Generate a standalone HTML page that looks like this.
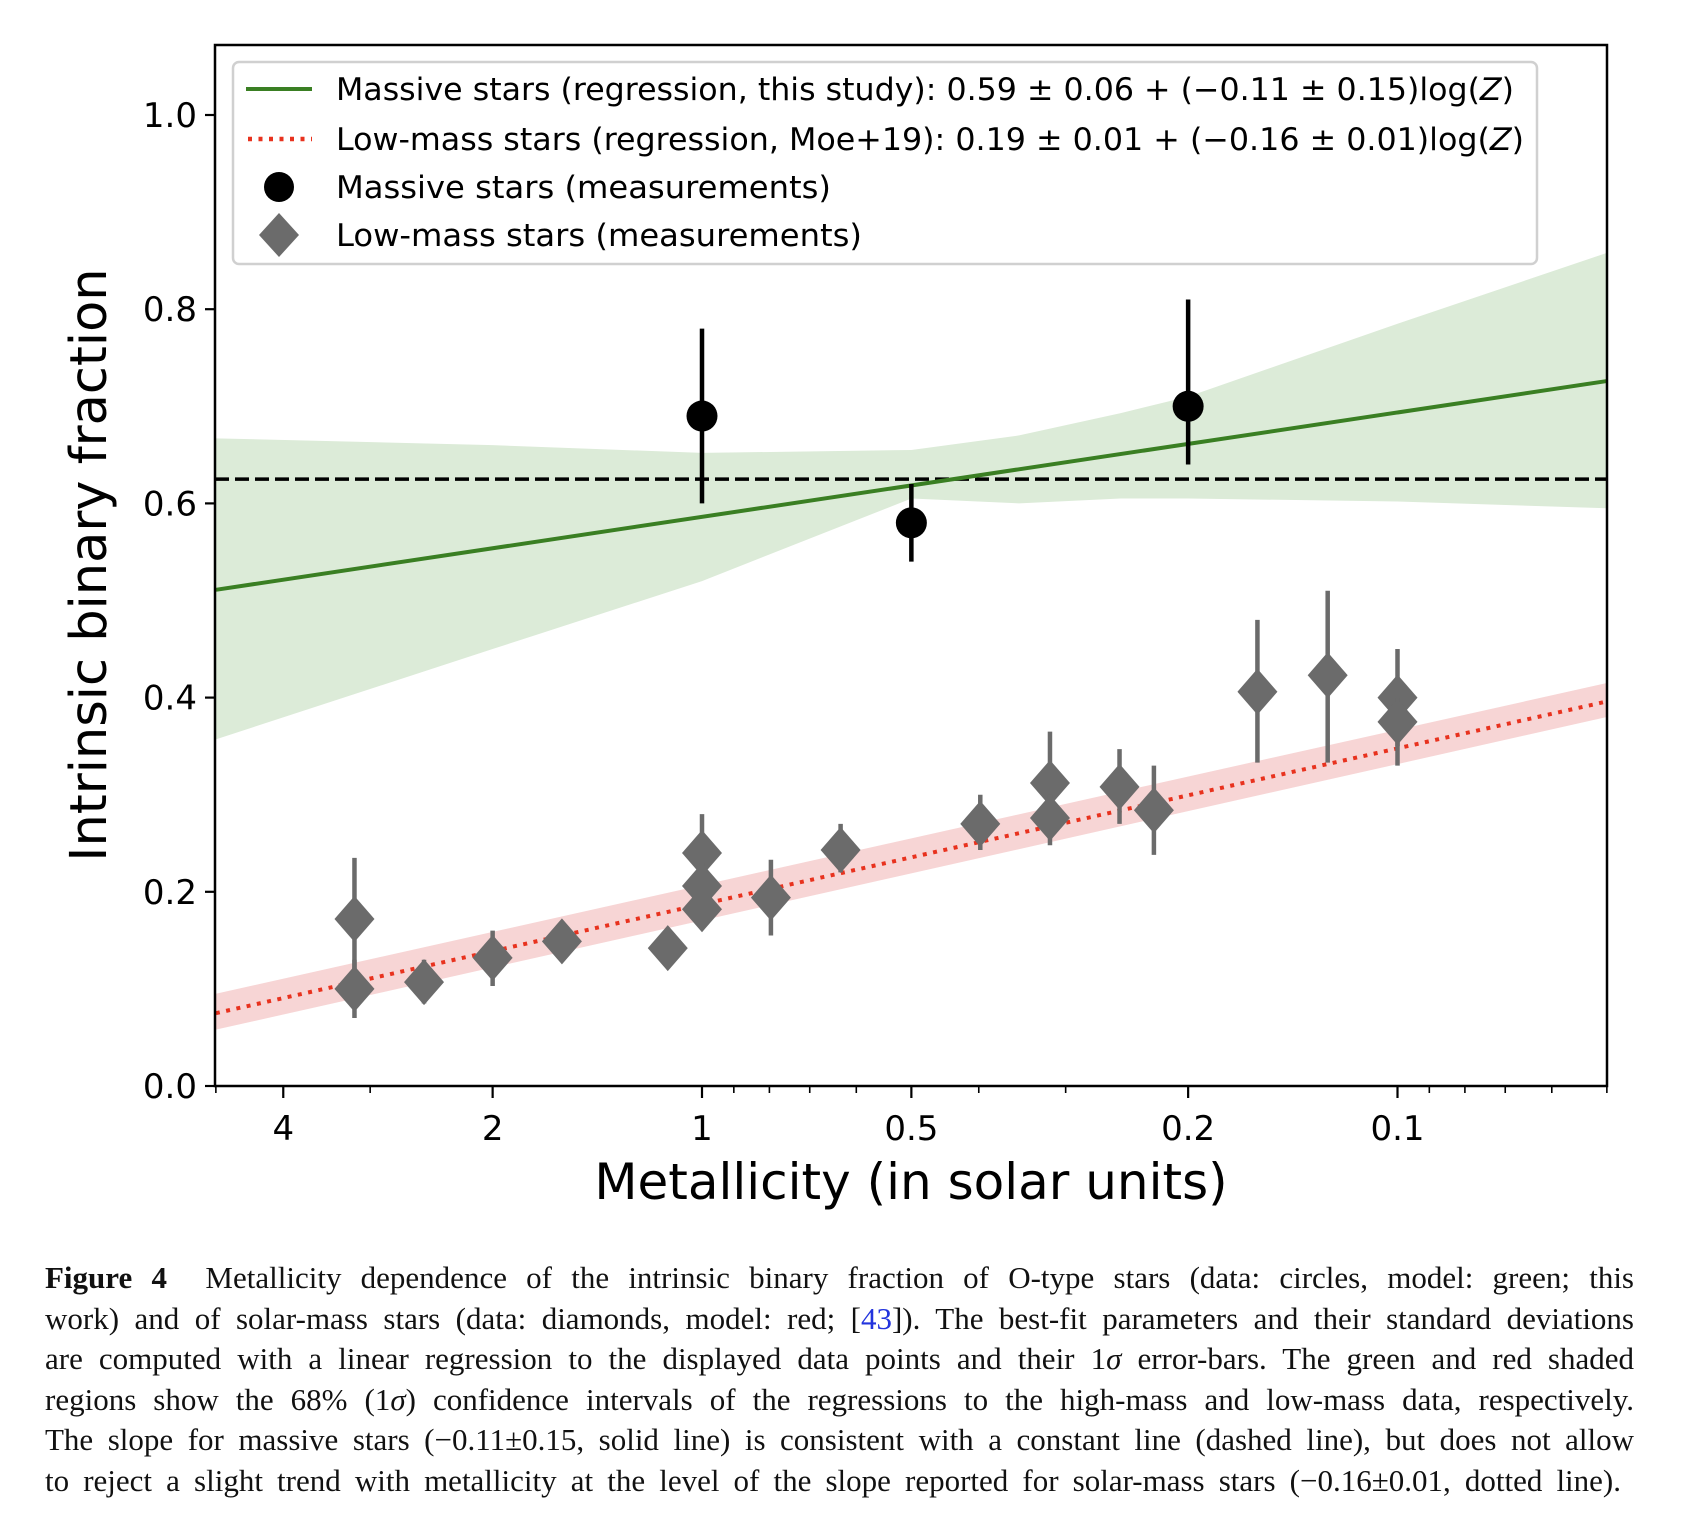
<!DOCTYPE html>
<html><head><meta charset="utf-8"><style>
body{margin:0;background:#fff;width:1688px;height:1536px;overflow:hidden;font-family:"DejaVu Sans","Liberation Sans",sans-serif}
#cap{position:absolute;left:45px;top:1258px;font-family:"Liberation Serif",serif;font-size:31px;line-height:40.6px;color:#111}
#cap div{text-align:justify;text-align-last:justify;white-space:nowrap;width:1589px}
</style></head><body>
<svg id="chart" width="1688" height="1250" style="position:absolute;left:0;top:0" xmlns="http://www.w3.org/2000/svg"></svg>
<div id="cap">
<div><b>Figure 4</b>&nbsp; Metallicity dependence of the intrinsic binary fraction of O-type stars (data: circles, model: green; this</div>
<div>work) and of solar-mass stars (data: diamonds, model: red; [<span style="color:#2233dd">43</span>]). The best-fit parameters and their standard deviations</div>
<div>are computed with a linear regression to the displayed data points and their 1<i>σ</i> error-bars. The green and red shaded</div>
<div>regions show the 68% (1<i>σ</i>) confidence intervals of the regressions to the high-mass and low-mass data, respectively.</div>
<div>The slope for massive stars (−0.11±0.15, solid line) is consistent with a constant line (dashed line), but does not allow</div>
<div style="width:1576px">to reject a slight trend with metallicity at the level of the slope reported for solar-mass stars (−0.16±0.01, dotted line).</div>
</div>
<script>
const massZ=[1,0.5,0.2];
const massY=[0.69,0.58,0.70];
const massLo=[0.60,0.54,0.64];
const massHi=[0.78,0.62,0.81];
const lowZ=[3.16,3.16,2.51,2.0,1.59,1.12,1,1,1,0.796,0.632,0.398,0.316,0.316,0.251,0.224,0.159,0.126,0.1,0.1];
const lowY=[0.172,0.100,0.107,0.132,0.149,0.142,0.240,0.206,0.182,0.194,0.243,0.270,0.312,0.276,0.308,0.284,0.406,0.423,0.400,0.375];
const lowLo=[0.100,0.070,0.085,0.103,0.149,0.142,0.200,0.185,0.163,0.155,0.220,0.243,0.270,0.248,0.270,0.238,0.333,0.333,0.350,0.330];
const lowHi=[0.235,0.130,0.130,0.160,0.149,0.142,0.280,0.230,0.200,0.233,0.270,0.300,0.365,0.300,0.347,0.330,0.480,0.510,0.450,0.400];
const bandZ=[5,2,1,0.5,0.35,0.25,0.2,0.1,0.05];
const greenUp=[0.667,0.660,0.652,0.655,0.670,0.693,0.710,0.785,0.858];
const greenDn=[0.357,0.450,0.520,0.605,0.600,0.605,0.605,0.602,0.595];
const greenLineY=[0.511,0.726];
const redLineY=[0.075,0.396];
const redUp=[0.095,0.415];
const redDn=[0.058,0.380];
const lineZ=[5,0.05];
const constY=0.625;
const yTicks=[0,0.2,0.4,0.6,0.8,1.0];
const yTickLabels=["0.0","0.2","0.4","0.6","0.8","1.0"];
const xTicks=[4,2,1,0.5,0.2,0.1];
const xTickLabels=["4","2","1","0.5","0.2","0.1"];
const xMinor=[5,3,0.9,0.8,0.7,0.6,0.4,0.3,0.09,0.08,0.07,0.06,0.05];

const L=215,R=1607,T=45,B=1086;
const X=z=>702-695.5*Math.log10(z);
const Y=v=>B-971*v;
const svg=document.getElementById('chart');
const NS='http://www.w3.org/2000/svg';
function mk(tag,attrs,parent){const e=document.createElementNS(NS,tag);for(const k in attrs)e.setAttribute(k,attrs[k]);(parent||svg).appendChild(e);return e;}
const clip=mk('clipPath',{id:'pc'});mk('rect',{x:L,y:T,width:R-L,height:B-T},clip);
const g=mk('g',{'clip-path':'url(#pc)'});
let e;
let pts=bandZ.map((z,i)=>X(z)+','+Y(greenUp[i])).concat(bandZ.slice().reverse().map((z,i)=>X(z)+','+Y(greenDn[bandZ.length-1-i])));
e=mk('polygon',{points:pts.join(' '),fill:'#dcebd8'},g);

pts=[X(lineZ[0])+','+Y(redUp[0]),X(lineZ[1])+','+Y(redUp[1]),X(lineZ[1])+','+Y(redDn[1]),X(lineZ[0])+','+Y(redDn[0])];
e=mk('polygon',{points:pts.join(' '),fill:'#f7d5d5'},g);

e=mk('line',{x1:L,x2:R,y1:Y(constY),y2:Y(constY),stroke:'#000','stroke-width':3.5,'stroke-dasharray':'14 6'},g);

e=mk('line',{x1:X(lineZ[0]),x2:X(lineZ[1]),y1:Y(greenLineY[0]),y2:Y(greenLineY[1]),stroke:'#3a7f23','stroke-width':4},g);

e=mk('line',{x1:X(lineZ[0]),x2:X(lineZ[1]),y1:Y(redLineY[0]),y2:Y(redLineY[1]),stroke:'#e8321e','stroke-width':4,'stroke-dasharray':'4 6.5'},g);

lowZ.forEach((z,i)=>{const x=X(z);
 const eb=mk('line',{x1:x,x2:x,y1:Y(lowLo[i]),y2:Y(lowHi[i]),stroke:'#6b6b6b','stroke-width':4.5},g);
 
 const y=Y(lowY[i]);
 const d=mk('polygon',{points:`${x},${y-23} ${x+20},${y} ${x},${y+23} ${x-20},${y}`,fill:'#6b6b6b'},g);
 });
massZ.forEach((z,i)=>{const x=X(z);
 const eb=mk('line',{x1:x,x2:x,y1:Y(massLo[i]),y2:Y(massHi[i]),stroke:'#000','stroke-width':4.5},g);
 
 const c=mk('circle',{cx:x,cy:Y(massY[i]),r:15.5,fill:'#000'},g);
 });
e=mk('rect',{x:L,y:T,width:R-L,height:B-T,fill:'none',stroke:'#000','stroke-width':2.5});

yTicks.forEach((v,i)=>{const y=Y(v);mk('line',{x1:L-10,x2:L,y1:y,y2:y,stroke:'#000','stroke-width':2.2});
 const t=mk('text',{x:L-18,y:y+12,'text-anchor':'end','font-size':34,fill:'#000'});t.textContent=yTickLabels[i];
 });
xTicks.forEach((v,i)=>{const x=X(v);mk('line',{x1:x,x2:x,y1:B,y2:B+12,stroke:'#000','stroke-width':2.2});
 const t=mk('text',{x:x,y:B+54,'text-anchor':'middle','font-size':34,fill:'#000'});t.textContent=xTickLabels[i];
 });
xMinor.forEach(v=>{const x=X(v);mk('line',{x1:x,x2:x,y1:B,y2:B+7,stroke:'#000','stroke-width':1.6});});
e=mk('text',{x:911,y:1199,'text-anchor':'middle','font-size':50,fill:'#000'});e.textContent='Metallicity (in solar units)';

e=mk('text',{x:0,y:0,'text-anchor':'middle','font-size':51,fill:'#000',transform:'translate(106,565) rotate(-90)'});e.textContent='Intrinsic binary fraction';

const lg=mk('g',{});
mk('rect',{x:233,y:62,width:1304,height:202,rx:6,fill:'#fff','fill-opacity':0.85,stroke:'#d0d0d0','stroke-width':2.5},lg);
const ly=[89,139,187,235];
mk('line',{x1:246,x2:312,y1:ly[0],y2:ly[0],stroke:'#3a7f23','stroke-width':4},lg);
mk('line',{x1:248,x2:312,y1:ly[1],y2:ly[1],stroke:'#e8321e','stroke-width':4.5,'stroke-dasharray':'4 6.5'},lg);
mk('circle',{cx:279,cy:ly[2],r:15,fill:'#000'},lg);
mk('polygon',{points:`279,${ly[3]-22} 299,${ly[3]} 279,${ly[3]+22} 259,${ly[3]}`,fill:'#6b6b6b'},lg);
const labs=['Massive stars (regression, this study): 0.59 ± 0.06 + (−0.11 ± 0.15)log(<tspan font-style="italic">Z</tspan>)',
'Low-mass stars (regression, Moe+19): 0.19 ± 0.01 + (−0.16 ± 0.01)log(<tspan font-style="italic">Z</tspan>)',
'Massive stars (measurements)','Low-mass stars (measurements)'];
const lens=[1178,1188,495,526];
const names=['legend-massive-regression','legend-lowmass-regression','legend-massive-measurements','legend-lowmass-measurements'];
labs.forEach((s,i)=>{const t=mk('text',{x:336,y:ly[i]+11,'font-size':31,fill:'#000',textLength:lens[i],lengthAdjust:'spacingAndGlyphs'},lg);t.innerHTML=s;
 });
</script>
</body></html>
